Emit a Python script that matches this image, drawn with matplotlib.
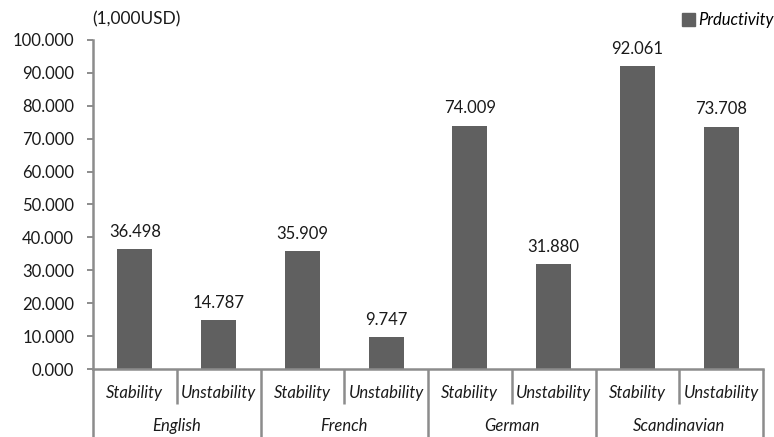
import matplotlib.pyplot as plt
from matplotlib.patches import Patch
import numpy as np

groups = ["English", "French", "German", "Scandinavian"]
subgroups = ["Stability", "Unstability"]
productivity = [36.498, 14.787, 35.909, 9.747, 74.009, 31.880, 92.061, 73.708]
yticks = [0, 10, 20, 30, 40, 50, 60, 70, 80, 90, 100]

plt.rcParams['font.family'] = ['Lato', 'DejaVu Sans']
bar_color = "#606060"
axis_color = "#8c8c8c"
text_color = "#1a1a1a"
fs = 12

fig = plt.figure(figsize=(7.74, 4.37), dpi=100)
W, H = 774, 437
ax = fig.add_axes([93 / W, 68 / H, (763 - 93) / W, (369 - 40) / H])

n = len(productivity)
x = np.arange(n)
ax.bar(x, productivity, width=0.42, color=bar_color, zorder=2)
for xi, v in zip(x, productivity):
    ax.text(xi, v + 5.2, f"{v:.3f}", ha="center", va="center", fontsize=fs, color=text_color)

ax.set_xlim(-0.5, n - 0.5)
ax.set_ylim(0, 100)
ax.set_yticks(yticks)
ax.set_yticklabels([f"{t:.3f}" for t in yticks], fontsize=fs, color=text_color)
ax.tick_params(axis="y", length=4.5, width=1.4, color=axis_color, pad=9)
ax.set_xticks([])
for s in ["top", "right"]:
    ax.spines[s].set_visible(False)
for s in ["left", "bottom"]:
    ax.spines[s].set_color(axis_color)
    ax.spines[s].set_linewidth(1.8)

# multi-level category axis
to_px = lambda py: 1 - (py - 40) / (369 - 40)  # pixel row -> axes fraction
trans = ax.get_xaxis_transform()
for i in range(n + 1):
    xb = i - 0.5
    bottom = to_px(437) if i % 2 == 0 else to_px(404)
    ax.plot([xb, xb], [0, bottom], transform=trans, color=axis_color,
            lw=1.8, clip_on=False, solid_capstyle="butt")
for i in range(n):
    ax.text(i, to_px(393), subgroups[i % 2], transform=trans, ha="center", va="center",
            fontsize=fs, style="italic", color=text_color)
for g, name in enumerate(groups):
    ax.text(2 * g + 0.5, to_px(426), name, transform=trans, ha="center", va="center",
            fontsize=fs, style="italic", color=text_color)

fig.text(92 / W, 1 - 19 / H, "(1,000USD)", ha="left", va="center", fontsize=12.5, color=text_color)

leg = fig.legend(handles=[Patch(color=bar_color, label="Prductivity")],
                 loc="center left", bbox_to_anchor=(682 / W, 1 - 20 / H),
                 frameon=False, handlelength=0.8, handleheight=0.8,
                 handletextpad=0.15, borderpad=0, borderaxespad=0,
                 prop={"size": fs, "style": "italic"})

fig.savefig("out.png", dpi=100)
